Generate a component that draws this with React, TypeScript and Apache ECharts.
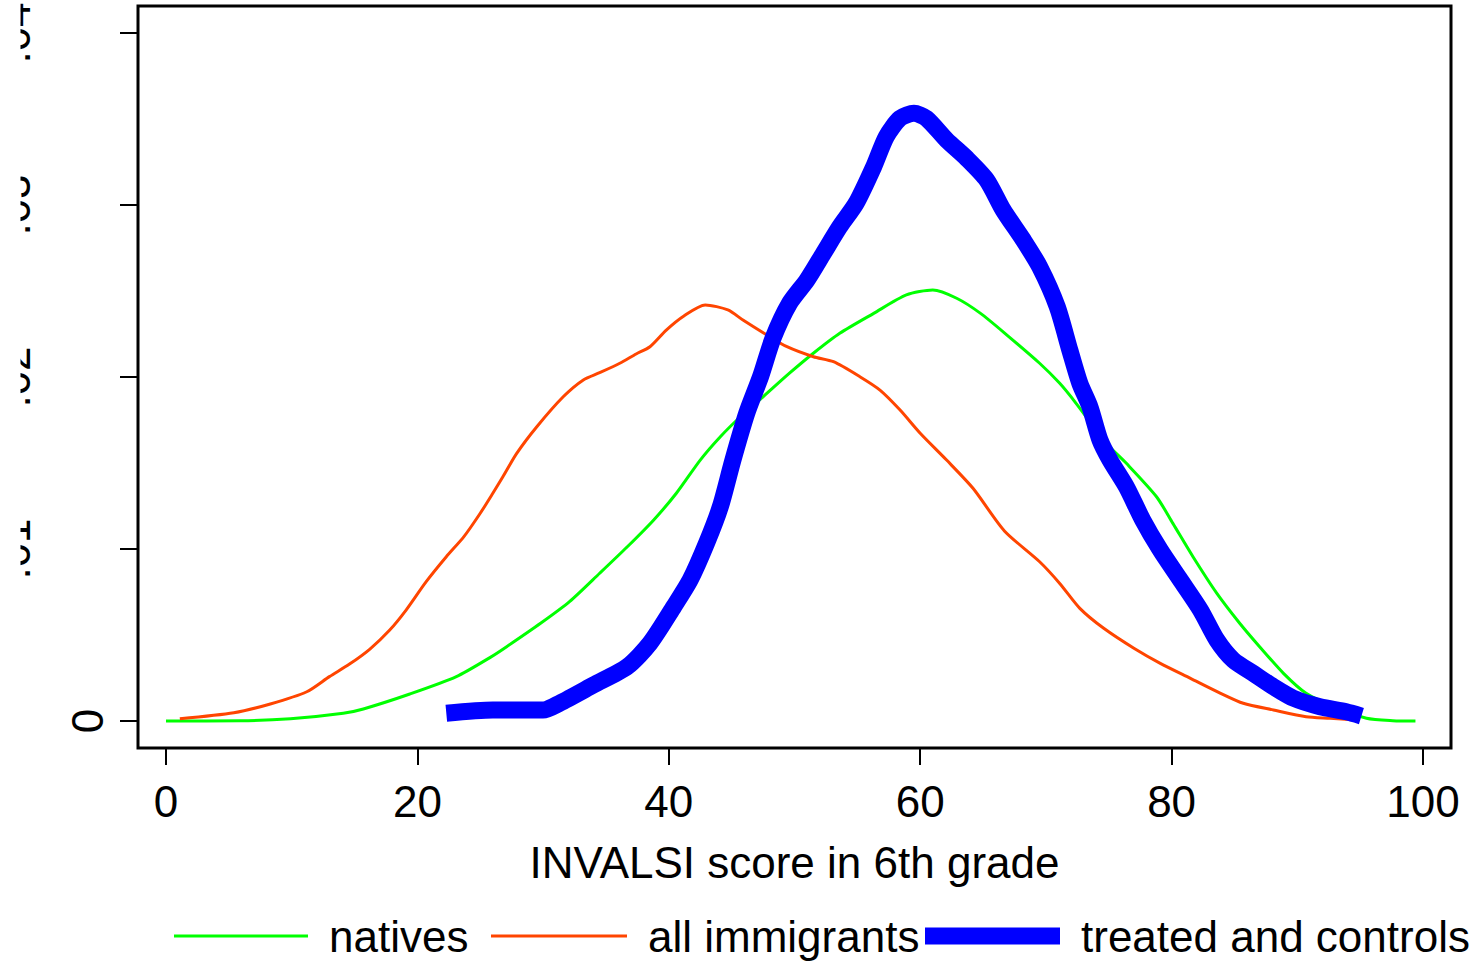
import React, { useEffect, useRef } from "react";
import * as echarts from "echarts";

const xTickValues = [0, 20, 40, 60, 80, 100];
const yTickValues = [0, 0.01, 0.02, 0.03, 0.04];
const yTickLabels = ["0", ".01", ".02", ".03", ".04"];

const seriesNames = ["natives", "all immigrants", "treated and controls"];
const seriesColors = ["#00ff00", "#ff4500", "#0000ff"];

const nativesX = [0, 5.9, 9.9, 14.1, 15.7, 19.4, 23.1, 25.8, 27.1, 29.8, 32.1, 34.5, 36.7, 38.8, 40.6, 42.5, 44.1, 45.7, 47.5, 49.6, 51.5, 53.6, 56.3, 58.9, 61.0, 62.9, 64.8, 66.9, 69.5, 71.1, 72.4, 74.8, 76.4, 78.8, 80.1, 81.7, 83.6, 85.4, 87.0, 88.9, 90.7, 92.9, 95.5, 97.6, 99.4];
const nativesY = [0, 0.00001, 0.00013, 0.00045, 0.0007, 0.00157, 0.00258, 0.0037, 0.00432, 0.00568, 0.00694, 0.00859, 0.01013, 0.01169, 0.01324, 0.01517, 0.01653, 0.01769, 0.01885, 0.02022, 0.02138, 0.02254, 0.0237, 0.02477, 0.02506, 0.02458, 0.0237, 0.02244, 0.0208, 0.01963, 0.01847, 0.01615, 0.01498, 0.01304, 0.01149, 0.00955, 0.00742, 0.0057, 0.00432, 0.00277, 0.00161, 0.00083, 0.00016, 0.00002, 0];

const immigrantsX = [1.1, 5.4, 8.3, 11.2, 13.0, 14.6, 16.2, 17.8, 19.1, 20.7, 22.3, 23.7, 25.0, 26.0, 26.8, 27.9, 29.5, 31.6, 33.2, 34.5, 36.1, 37.4, 38.5, 39.8, 41.2, 42.9, 44.7, 45.9, 47.8, 49.4, 51.5, 53.1, 55.2, 56.8, 58.4, 60.0, 62.1, 64.2, 66.7, 69.5, 71.1, 72.7, 74.6, 77.0, 79.1, 81.5, 83.9, 85.7, 88.1, 90.7, 92.6, 94.6];
const immigrantsY = [0.00013, 0.00048, 0.00099, 0.0017, 0.00258, 0.00331, 0.00417, 0.00529, 0.00645, 0.0081, 0.00955, 0.01072, 0.01208, 0.01324, 0.0142, 0.01556, 0.01711, 0.01885, 0.01983, 0.02025, 0.0208, 0.02134, 0.02176, 0.02273, 0.02355, 0.02419, 0.0239, 0.02331, 0.02244, 0.02176, 0.02118, 0.02089, 0.02002, 0.01924, 0.01808, 0.01673, 0.01517, 0.01353, 0.01105, 0.00926, 0.008, 0.00655, 0.00539, 0.00423, 0.00335, 0.00248, 0.00161, 0.00103, 0.00064, 0.00025, 0.00016, 0.00006];

const treatedX = [22.3, 26.0, 30.0, 31.3, 34.0, 36.7, 38.5, 40.4, 41.7, 43.0, 44.1, 45.1, 46.2, 47.3, 48.3, 49.6, 51.0, 52.3, 53.6, 54.9, 56.3, 57.3, 58.4, 59.5, 60.5, 62.1, 63.7, 65.3, 66.6, 68.2, 69.5, 70.9, 71.9, 72.7, 73.5, 74.3, 75.1, 76.4, 77.7, 79.1, 80.7, 82.3, 83.6, 84.9, 86.5, 88.1, 89.7, 91.8, 93.9, 95.1];
const treatedY = [0.00045, 0.00064, 0.00064, 0.00103, 0.00209, 0.00316, 0.00452, 0.00665, 0.0082, 0.01033, 0.01246, 0.01517, 0.01789, 0.02002, 0.02227, 0.02428, 0.02564, 0.02719, 0.02874, 0.0301, 0.03223, 0.03397, 0.03504, 0.03533, 0.03504, 0.03378, 0.03271, 0.03145, 0.02971, 0.02797, 0.02641, 0.02409, 0.02157, 0.01963, 0.01827, 0.01634, 0.01517, 0.01362, 0.01169, 0.00994, 0.0082, 0.00645, 0.00471, 0.00355, 0.00277, 0.00199, 0.00132, 0.00083, 0.00054, 0.00029];

const xAxisTitle = "INVALSI score in 6th grade";

const FONT = "'Liberation Sans', Arial, sans-serif";

const zip = (xs: number[], ys: number[]) => xs.map((x, i) => [x, ys[i]]);

export default function App() {
  const ref = useRef<HTMLDivElement>(null);
  useEffect(() => {
    if (!ref.current) return;
    const chart = echarts.init(ref.current, null, { renderer: "svg" });
    const lineWidths = [3, 3, 17];
    const datasets = [zip(nativesX, nativesY), zip(immigrantsX, immigrantsY), zip(treatedX, treatedY)];
    const legendLefts = [174, 491, 925];
    const legendIconW = [134, 136, 135];
    const legendIconH = [3, 3, 17];
    const option: any = {
      animation: false,
      backgroundColor: "#ffffff",
      grid: {
        left: 138,
        top: 6,
        width: 1313,
        height: 742,
        show: true,
        containLabel: false,
        outerBoundsMode: "none",
        borderColor: "#000",
        borderWidth: 3,
        backgroundColor: "transparent",
      },
      xAxis: {
        type: "value",
        min: -2.2275,
        max: 102.227,
        axisLine: { show: false, onZero: false },
        splitLine: { show: false },
        axisTick: {
          show: true,
          inside: false,
          customValues: xTickValues,
          length: 17,
          lineStyle: { color: "#000", width: 2 },
        },
        axisLabel: {
          customValues: xTickValues,
          fontSize: 44,
          lineHeight: 44,
          fontFamily: FONT,
          color: "#000",
          margin: 31,
        },
        name: xAxisTitle,
        nameLocation: "middle",
        nameGap: 92,
        nameTextStyle: { fontSize: 44, lineHeight: 44, fontFamily: FONT, color: "#000" },
      },
      yAxis: {
        type: "value",
        min: -0.00157,
        max: 0.04157,
        axisLine: { show: false, onZero: false },
        splitLine: { show: false },
        axisTick: {
          show: true,
          inside: false,
          customValues: yTickValues,
          length: 18,
          lineStyle: { color: "#000", width: 2 },
        },
        axisLabel: {
          customValues: yTickValues,
          rotate: 90,
          fontSize: 44,
          lineHeight: 44,
          fontFamily: FONT,
          color: "#000",
          margin: 29,
          formatter: (v: number) => {
            const idx = yTickValues.findIndex((t) => Math.abs(t - v) < 1e-9);
            const lab = idx >= 0 ? yTickLabels[idx] : String(v);
            return idx === 0 ? "{z|" + lab + "}" : "{o|" + lab + "}";
          },
          rich: {
            z: {
              fontSize: 44,
              lineHeight: 44,
              fontFamily: FONT,
              color: "#000",
            },
            o: {
              fontSize: 44,
              lineHeight: 190,
              fontFamily: FONT,
              color: "#000",
            },
          },
        },
      },
      legend: seriesNames.map((name, i) => ({
        data: [{ name, itemStyle: { color: seriesColors[i] } }],
        left: legendLefts[i],
        top: 914,
        padding: 0,
        icon: "rect",
        itemWidth: legendIconW[i],
        itemHeight: legendIconH[i],
        selectedMode: false,
        textStyle: {
          fontSize: 44,
          lineHeight: 44,
          fontFamily: FONT,
          color: "#000",
          padding: [0, 0, 0, 16],
        },
      })),
      graphic: {
        elements: [
          {
            type: "rect",
            left: 0,
            top: 0,
            z: 100,
            shape: { width: 20.5, height: 690 },
            style: { fill: "#ffffff" },
          },
        ],
      },
      series: seriesNames.map((name, i) => ({
        name,
        type: "line",
        data: datasets[i],
        showSymbol: false,
        symbol: "none",
        smooth: 0.25,
        color: seriesColors[i],
        lineStyle: {
          color: seriesColors[i],
          width: lineWidths[i],
          cap: "butt",
          join: "round",
        },
        emphasis: { disabled: true },
        silent: true,
        z: 2 + i,
      })),
    };
    chart.setOption(option);
    return () => chart.dispose();
  }, []);
  return (
    <div
      ref={ref}
      style={{ position: "absolute", left: 0, top: 0, width: 1482, height: 961, background: "#fff" }}
    />
  );
}
